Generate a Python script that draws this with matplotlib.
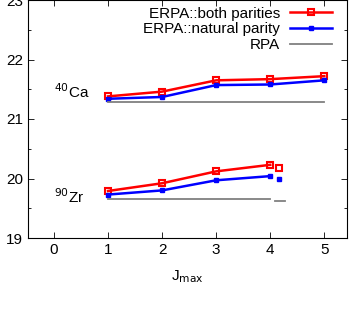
import matplotlib
matplotlib.use('Agg')
import matplotlib.pyplot as plt

plt.rcParams['font.family'] = ['Liberation Sans', 'DejaVu Sans']

# Data
jmax = [1, 2, 3, 4, 5]
ca_both = [21.38, 21.46, 21.65, 21.67, 21.72]
ca_natural = [21.34, 21.37, 21.57, 21.58, 21.65]
ca_rpa = 21.28

jmax_zr = [1, 2, 3, 4]
zr_both = [19.79, 19.92, 20.12, 20.23]
zr_natural = [19.73, 19.80, 19.97, 20.04]
zr_rpa = 19.66

# single extra points to the right of the Zr curves
zr_extra_x = 4.17
zr_both_extra = 20.18
zr_natural_extra = 19.995
zr_rpa_extra = 19.62
zr_rpa_extra_span = [4.09, 4.28]

red = '#ff0000'
blue = '#0000ff'
gray = '#808080'
fs = 11

fig = plt.figure(figsize=(3.49, 3.15), dpi=100)
ax = fig.add_axes([28 / 349, 77 / 315, 319 / 349, 238 / 315])

# Ca curves
ax.plot(jmax, ca_both, color=red, lw=1.8, marker='s', ms=4.5, mfc='none', mew=1.5,
        label='ERPA::both parities')
ax.plot(jmax, ca_natural, color=blue, lw=1.8, marker='s', ms=3.5, mew=1,
        label='ERPA::natural parity')
ax.plot([jmax[0], jmax[-1]], [ca_rpa, ca_rpa], color=gray, lw=1.3, label='RPA')

# Zr curves
ax.plot(jmax_zr, zr_both, color=red, lw=1.8, marker='s', ms=4.5, mfc='none', mew=1.5)
ax.plot(jmax_zr, zr_natural, color=blue, lw=1.8, marker='s', ms=3.5, mew=1)
ax.plot([jmax_zr[0], jmax_zr[-1]], [zr_rpa, zr_rpa], color=gray, lw=1.3)

ax.plot([zr_extra_x], [zr_both_extra], color=red, marker='s', ms=4.5, mfc='none', mew=1.5)
ax.plot([zr_extra_x], [zr_natural_extra], color=blue, marker='s', ms=3.5, mew=1)
ax.plot(zr_rpa_extra_span, [zr_rpa_extra, zr_rpa_extra], color=gray, lw=1.3)

ax.text(0.0, 21.35, r'$^{40}$Ca', fontsize=fs, ha='left', va='baseline')
ax.text(0.0, 19.58, r'$^{90}$Zr', fontsize=fs, ha='left', va='baseline')

ax.set_xlim(-0.48, 5.42)
ax.set_ylim(19, 23)
ax.set_xticks([0, 1, 2, 3, 4, 5])
ax.set_yticks([19, 20, 21, 22, 23])
ax.set_yticks([19.5, 20.5, 21.5, 22.5], minor=True)
ax.tick_params(direction='in', top=True, right=True, labelsize=fs, length=4, width=0.6)
ax.tick_params(which='minor', direction='in', right=True, length=2, width=0.6)
ax.set_xlabel(r'J$_{\rm max}$', fontsize=fs, labelpad=8)

leg = ax.legend(loc='upper right', bbox_to_anchor=(0.972, 0.997), frameon=False,
                fontsize=fs, markerfirst=False, handlelength=2.75, borderaxespad=0,
                labelspacing=0.1, handletextpad=0.65)
for t in leg.get_texts():
    t.set_ha('right')

plt.savefig('out.png', dpi=100)
